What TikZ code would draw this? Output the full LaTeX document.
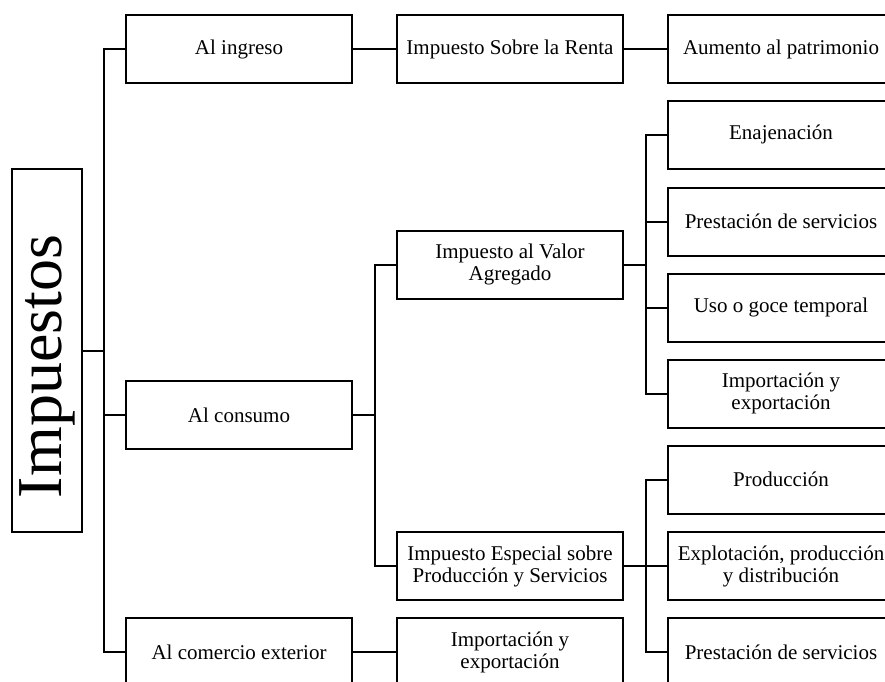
\documentclass[tikz,border=0pt]{standalone}
\usepackage{fontspec}
\setmainfont{Liberation Serif}
\begin{document}
\begin{tikzpicture}
	[x=1pt,y=-1pt,box/.style={draw,line width=2pt,minimum width=226pt,minimum height=68pt,inner sep=2pt,align=center,font=\fontsize{21}{22}\selectfont},link/.style={line width=2pt},rootbox/.style={draw,line width=2pt,rotate=90,minimum width=363pt,minimum height=70pt,inner sep=0pt,font=\fontsize{64}{64}\selectfont}]
\useasboundingbox (0,0) rectangle (885,681);
\node[rootbox] (imp) at (47,350.5) {\hspace*{-32pt}Impuestos};
\node[box] (ingreso) at (239,49) {Al ingreso};
\node[box] (consumo) at (239,415) {Al consumo};
\node[box] (comercio) at (239,652) {Al comercio exterior};
\node[box] (isr) at (510,49) {Impuesto Sobre la Renta};
\node[box] (iva) at (510,264.5) {Impuesto al Valor\\Agregado};
\node[box] (ieps) at (510,566) {Impuesto Especial sobre\\Producción y Servicios};
\node[box] (impexp) at (510,652) {Importación y\\exportación};
\node[box] (aumento) at (781,49) {Aumento al patrimonio};
\node[box] (enaj) at (781,134.5) {Enajenación};
\node[box] (prest) at (781,221.5) {Prestación de servicios};
\node[box] (uso) at (781,307.5) {Uso o goce temporal};
\node[box] (impexpiva) at (781,393.5) {Importación y\\exportación};
\node[box] (prod) at (781,479.5) {Producción};
\node[box] (explot) at (781,566) {Explotación, producción\\y distribución};
\node[box] (prestieps) at (781,652) {Prestación de servicios};
\coordinate (t1) at (104,350.5);
\coordinate (t2) at (375,415);
\coordinate (t3) at (646,264.5);
\coordinate (t4) at (646,566);
\draw[link] (imp) -- (t1);
\foreach \n in {ingreso,consumo,comercio}
	\draw[link] (t1) |- (\n.west);
\draw[link] (ingreso) -- (isr);
\draw[link] (isr) -- (aumento);
\draw[link] (comercio) -- (impexp);
\draw[link] (consumo) -- (t2);
\foreach \n in {iva,ieps}
	\draw[link] (t2) |- (\n.west);
\draw[link] (iva) -- (t3);
\foreach \n in {enaj,prest,uso,impexpiva}
	\draw[link] (t3) |- (\n.west);
\draw[link] (ieps) -- (t4);
\foreach \n in {prod,explot,prestieps}
	\draw[link] (t4) |- (\n.west);
\end{tikzpicture}
\end{document}
